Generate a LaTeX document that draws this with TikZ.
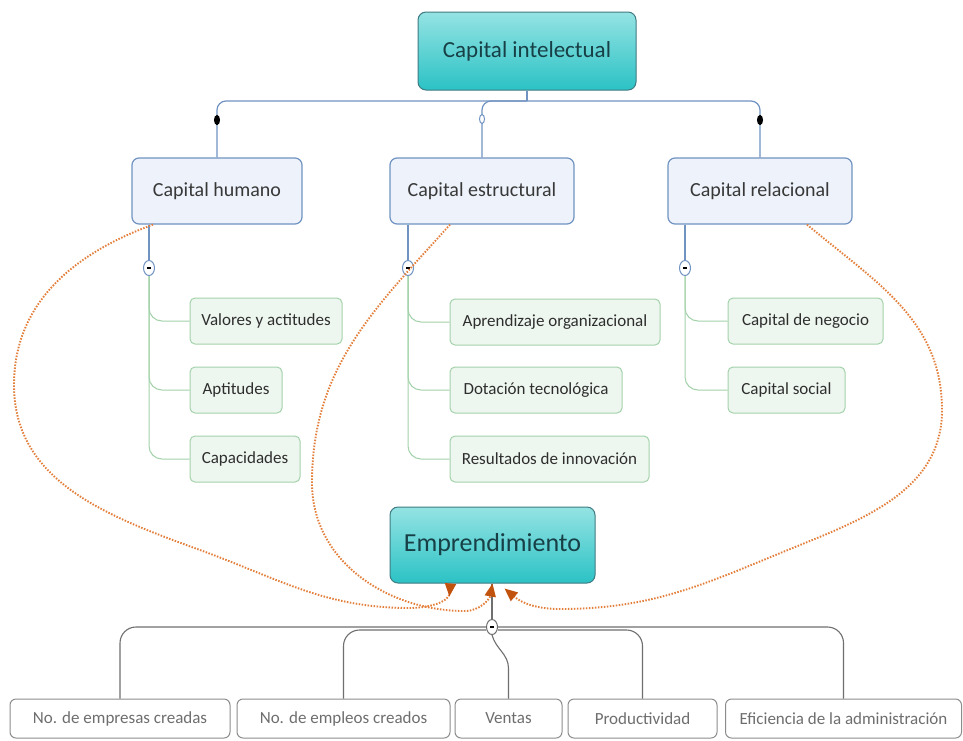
\documentclass[tikz,border=0pt]{standalone}
\usepackage{fontspec}
\setmainfont{Carlito}
\usetikzlibrary{arrows.meta,shapes.geometric}
\definecolor{TealTop}{HTML}{95E3E3}
\definecolor{TealBottom}{HTML}{2BC2C5}
\definecolor{TealEdge}{HTML}{3F7B82}
\definecolor{TealText}{HTML}{173F46}
\definecolor{BlueLine}{HTML}{7093C2}
\definecolor{BlueFill}{HTML}{EEF3FB}
\definecolor{GreenLine}{HTML}{A3D2AA}
\definecolor{GreenFill}{HTML}{EEF7EF}
\definecolor{GrayLine}{HTML}{6F6F6F}
\definecolor{GrayText}{HTML}{6E6E6E}
\definecolor{DotOrange}{HTML}{E37F3A}
\definecolor{TipBrown}{HTML}{C2530F}

\begin{document}
\begin{tikzpicture}[x=1pt,y=1pt, every node/.style={inner sep=0pt},
  rootbox/.style={draw=TealEdge, line width=1pt, rounded corners=8pt, top color=TealTop, bottom color=TealBottom, text=TealText},
  mainbox/.style={draw=BlueLine, line width=1.2pt, fill=BlueFill, rounded corners=7pt, minimum height=66pt, text=black!78, font=\fontsize{20}{24}\selectfont},
  leafbox/.style={draw=GreenLine, line width=1pt, fill=GreenFill, rounded corners=5pt, minimum height=46pt, text=black!82, font=\fontsize{17}{20}\selectfont},
  factbox/.style={draw=GrayLine!80, line width=1pt, fill=white, rounded corners=6pt, minimum height=39pt, text=GrayText, font=\fontsize{17}{20}\selectfont},
  fold/.style={ellipse, draw=#1, line width=1pt, fill=white, minimum width=11pt, minimum height=15pt},
  knob/.style={ellipse, draw=#1, line width=1pt, fill=#1, minimum width=5pt, minimum height=9pt},
  rel/.style={DotOrange, line width=1.9pt, dash pattern=on 1.5pt off 1.5pt},
  tip/.style={-{Triangle[length=13pt,width=11pt,color=TipBrown]}}]
  \fill[white] (0,0) rectangle (963,-740);
  \useasboundingbox (0,0) rectangle (963,-740);

  % main topics
  \node[rootbox, minimum width=218pt, minimum height=78pt, font=\fontsize{23}{27}\selectfont] (intel) at (527,-51) {Capital intelectual};
  \node[mainbox, minimum width=170pt] (humano) at (217,-191) {Capital humano};
  \node[mainbox, minimum width=184pt] (estruct) at (482,-191) {Capital estructural};
  \node[mainbox, minimum width=184pt] (relac) at (760,-191) {Capital relacional};

  \coordinate (hub) at (527,-101);
  \draw[BlueLine, line width=1.2pt] (intel.south) -- (hub);
  \draw[BlueLine, line width=1.2pt, rounded corners=9pt] (humano.north) |- (hub) -| (relac.north);
  \draw[BlueLine, line width=1.2pt, rounded corners=9pt] (estruct.north) |- (hub);
  \node[knob=black] (hknob) at (humano.north |- 0,-120) {};
  \node[knob=BlueLine, fill=white] (eknob) at (estruct.north |- 0,-119) {};
  \node[knob=black] (rknob) at (relac.north |- 0,-120) {};

  % subtopics
  \node[leafbox, minimum width=152pt] (valores) at (266,-321) {Valores y actitudes};
  \node[leafbox, minimum width=92pt] (aptit) at (236,-390) {Aptitudes};
  \node[leafbox, minimum width=110pt] (capac) at (245,-459) {Capacidades};
  \node[leafbox, minimum width=210pt] (aprend) at (555,-322) {Aprendizaje organizacional};
  \node[leafbox, minimum width=172pt] (dotac) at (536,-390) {Dotación tecnológica};
  \node[leafbox, minimum width=199pt] (result) at (549.5,-459) {Resultados de innovación};
  \node[leafbox, minimum width=155pt] (negocio) at (805.5,-321) {Capital de negocio};
  \node[leafbox, minimum width=117pt] (social) at (786.5,-390) {Capital social};

  \node[fold=BlueLine] (hfold) at (149,-268) {\rule{4.5pt}{1.6pt}};
  \node[fold=BlueLine] (efold) at (408,-268) {\rule{4.5pt}{1.6pt}};
  \node[fold=BlueLine] (rfold) at (685,-268) {\rule{4.5pt}{1.6pt}};
  \draw[BlueLine, line width=1.2pt] (hfold.north |- humano.south) -- (hfold.north);
  \draw[BlueLine, line width=1.2pt] (efold.north |- estruct.south) -- (efold.north);
  \draw[BlueLine, line width=1.2pt] (rfold.north |- relac.south) -- (rfold.north);
  \foreach \leaf in {valores,aptit,capac}
    \draw[GreenLine, line width=1pt, rounded corners=13pt] (hfold.south) |- (\leaf.west);
  \foreach \leaf in {aprend,dotac,result}
    \draw[GreenLine, line width=1pt, rounded corners=13pt] (efold.south) |- (\leaf.west);
  \foreach \leaf in {negocio,social}
    \draw[GreenLine, line width=1pt, rounded corners=13pt] (rfold.south) |- (\leaf.west);

  % Emprendimiento and its indicators
  \node[rootbox, minimum width=205pt, minimum height=76pt, font=\fontsize{26}{30}\selectfont] (empr) at (492.5,-545) {Emprendimiento};
  \node[factbox, minimum width=220pt] (empresas) at (120,-718.5) {No. de empresas creadas};
  \node[factbox, minimum width=213pt] (empleos) at (343.5,-718.5) {No. de empleos creados};
  \node[factbox, minimum width=107pt] (ventas) at (508.5,-718.5) {Ventas};
  \node[factbox, minimum width=149pt] (productiv) at (642.5,-718.5) {Productividad};
  \node[factbox, minimum width=236pt] (eficiencia) at (843.5,-718.5) {Eficiencia de la administración};

  \node[fold=GrayLine] (bfold) at (492,-627) {\rule{4.5pt}{1.6pt}};
  \draw[GrayLine, line width=1.1pt] (empr.south -| bfold.north) -- (bfold.north);
  \draw[GrayLine, line width=1.1pt, rounded corners=16pt] (bfold.west) -| (empresas.north);
  \draw[GrayLine, line width=1.1pt, rounded corners=16pt] (bfold.east) -| (eficiencia.north);
  \draw[GrayLine, line width=1.1pt, rounded corners=16pt] ([yshift=-3pt]bfold.west) -| (empleos.north);
  \draw[GrayLine, line width=1.1pt, rounded corners=16pt] ([yshift=-3pt]bfold.east) -| (productiv.north);
  \draw[GrayLine, line width=1.1pt] (bfold.south) to[out=-75,in=90] ([yshift=30pt]ventas.north) -- (ventas.north);

  % relationships
  \draw[rel, -{Triangle[reversed,length=13pt,width=11pt,color=TipBrown]}] ([xshift=-64pt]humano.south) to[out=200,in=90] (14,-385)
    to[out=-90,in=160] (200,-550) to[out=-20,in=180] (410,-608) to[out=0,in=-95] ([xshift=-42pt]empr.south);
  \draw[rel, tip] ([xshift=-32pt]estruct.south) to[out=228,in=90] (312,-483)
    to[out=-90,in=180] (465,-611) to[out=0,in=-100] (empr.south);
  \draw[rel, tip] ([xshift=47pt]relac.south) to[out=-40,in=90] (942,-410)
    to[out=-90,in=22] (800,-545) to[out=202,in=0] (560,-609) to[out=180,in=-40] ([shift={(12pt,-5pt)}]empr.south);
\end{tikzpicture}
\end{document}
